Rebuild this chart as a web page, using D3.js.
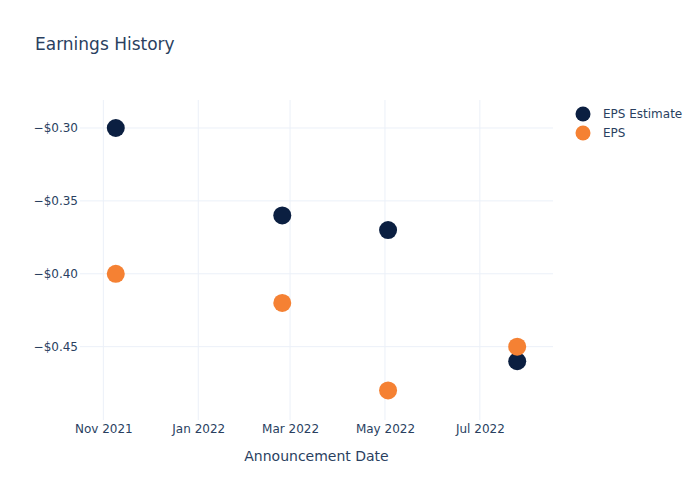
<!DOCTYPE html>
<html>
<head>
<meta charset="utf-8">
<script src="https://cdn.jsdelivr.net/npm/d3@7"></script>
<style>
  html, body { margin: 0; padding: 0; background: #fff; }
  svg { display: block; font-family: "DejaVu Sans", sans-serif; }
</style>
</head>
<body>
<svg id="chart" width="700" height="500"></svg>
<script>
const dates = ["2021-11-09", "2022-02-24", "2022-05-03", "2022-07-25"];
const epsEstimate = [-0.30, -0.36, -0.37, -0.46];
const epsActual = [-0.40, -0.42, -0.48, -0.45];
const seriesNames = ["EPS Estimate", "EPS"];
const xTickLabels = ["Nov 2021", "Jan 2022", "Mar 2022", "May 2022", "Jul 2022"];
const xTickDates = ["2021-11-01", "2022-01-01", "2022-03-01", "2022-05-01", "2022-07-01"];
const yTickValues = [-0.30, -0.35, -0.40, -0.45];

const colors = ["#0b1f41", "#f58133"];
const textColor = "#2a3f5f";
const gridColor = "#ebf0f8";

(function () {
const parse = d3.utcParse("%Y-%m-%d");
const svg = d3.select("#chart");
const pLeft = 80, pRight = 553, pTop = 100, pBottom = 420;

const x = d3.scaleUtc()
  .domain([parse("2021-10-17"), parse("2022-08-17")])
  .range([pLeft, pRight]);
const y = d3.scaleLinear()
  .domain([-0.5003, -0.2808])
  .range([pBottom, pTop]);

// gridlines
svg.append("g").selectAll("line").data(xTickDates).join("line")
  .attr("x1", d => x(parse(d))).attr("x2", d => x(parse(d)))
  .attr("y1", pTop).attr("y2", pBottom)
  .attr("stroke", gridColor).attr("stroke-width", 1);
svg.append("g").selectAll("line").data(yTickValues).join("line")
  .attr("x1", pLeft).attr("x2", pRight)
  .attr("y1", d => y(d)).attr("y2", d => y(d))
  .attr("stroke", gridColor).attr("stroke-width", 1);

// axes
const fmt = v => "\u2212$" + Math.abs(v).toFixed(2);
const yAxis = d3.axisLeft(y).tickValues(yTickValues).tickFormat(fmt).tickSize(0).tickPadding(0);
const gy = svg.append("g").attr("transform", `translate(${pLeft - 2},0)`).call(yAxis);
gy.select(".domain").remove();
gy.selectAll("text").attr("fill", textColor).style("font-size", "12px")
  .style("font-family", "DejaVu Sans, sans-serif");

const xAxis = d3.axisBottom(x).tickValues(xTickDates.map(parse))
  .tickFormat((d, i) => xTickLabels[i]).tickSize(0).tickPadding(0);
const gx = svg.append("g").attr("transform", `translate(0,${pBottom + 4})`).call(xAxis);
gx.select(".domain").remove();
gx.selectAll("text").attr("fill", textColor).style("font-size", "12px")
  .style("font-family", "DejaVu Sans, sans-serif").attr("dy", "0.71em");

// axis title
svg.append("text").attr("x", (pLeft + pRight) / 2).attr("y", 461)
  .attr("text-anchor", "middle").attr("fill", textColor)
  .style("font-size", "14px").text("Announcement Date");

// title
svg.append("text").attr("x", 35).attr("y", 50).attr("fill", textColor)
  .style("font-size", "17px").text("Earnings History");

// points
const seriesData = [epsEstimate, epsActual];
seriesData.forEach((vals, si) => {
  svg.append("g").selectAll("circle").data(vals).join("circle")
    .attr("cx", (d, i) => x(parse(dates[i])))
    .attr("cy", d => y(d))
    .attr("r", 9)
    .attr("fill", colors[si]);
});

// legend
const lg = svg.append("g");
seriesNames.forEach((n, i) => {
  const yy = 114 + i * 19;
  lg.append("circle").attr("cx", 583).attr("cy", yy).attr("r", 7.5).attr("fill", colors[i]);
  lg.append("text").attr("x", 603).attr("y", yy).attr("dy", "0.35em")
    .attr("fill", textColor).style("font-size", "12px").text(n);
});
})();
</script>
</body>
</html>
